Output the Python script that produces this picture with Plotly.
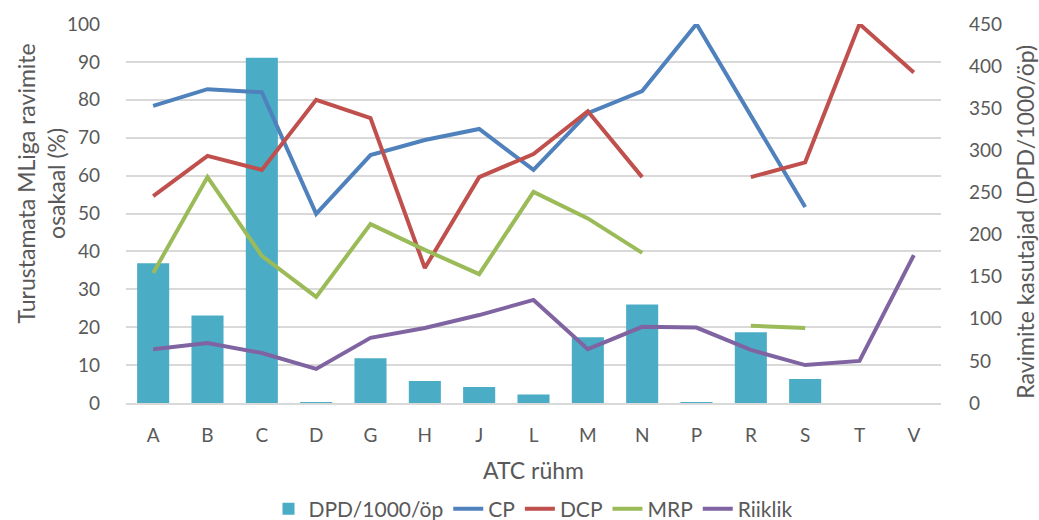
import plotly.graph_objects as go

# ATC groups on the x axis
categories = ["A", "B", "C", "D", "G", "H", "J", "L", "M", "N", "P", "R", "S", "T", "V"]

# Users of medicines, DPD per 1000 inhabitants (right axis)
dpd = [166, 104, 410, 1.0, 53, 26, 19, 10, 78, 117, 0.4, 84, 28.5, None, None]

# Share of medicines not marketed (%) by procedure (left axis)
cp = [78.4, 82.8, 82.0, 49.9, 65.4, 69.4, 72.3, 61.5, 76.5, 82.3, 100, 76.0, 51.7, None, None]
dcp = [54.6, 65.2, 61.5, 80.0, 75.2, 35.6, 59.6, 65.7, 77.0, 59.6, None, 59.6, 63.5, 100, 87.2]
mrp = [34.3, 59.6, 38.8, 28.0, 47.2, 40.4, 34.0, 55.7, 48.7, 39.6, None, 20.4, 19.8, None, None]
riiklik = [14.2, 15.8, 13.2, 9.0, 17.2, 19.8, 23.2, 27.2, 14.2, 20.1, 19.9, 14.0, 10.0, 11.1, 39.0]

left_ticks = list(range(0, 101, 10))
right_ticks = list(range(0, 451, 50))

text_color = "#595959"
grid_color = "#D9D9D9"
font_family = "Lato, 'Open Sans', sans-serif"
title_size = 23

fig = go.Figure()

fig.add_trace(go.Bar(
    x=categories, y=dpd, name="DPD/1000/öp",
    marker=dict(color="#4BACC6", line=dict(width=0)),
    yaxis="y",
))

line_series = [
    ("CP", cp, "#4F81BD"),
    ("DCP", dcp, "#C0504D"),
    ("MRP", mrp, "#9BBB59"),
    ("Riiklik", riiklik, "#8064A2"),
]
for name, values, color in line_series:
    fig.add_trace(go.Scatter(
        x=categories, y=values, name=name, mode="lines",
        line=dict(color=color, width=4),
        connectgaps=False,
        yaxis="y2",
    ))

# Axis titles placed as annotations so their position is fixed
fig.add_annotation(
    text="Turustamata MLiga ravimite<br>osakaal (%)",
    xref="paper", yref="paper", x=-0.104, y=0.58,
    textangle=-90, showarrow=False, xanchor="center", yanchor="middle",
    font=dict(size=title_size, color=text_color),
)
fig.add_annotation(
    text="Ravimite kasutajad (DPD/1000/öp)",
    xref="paper", yref="paper", x=1.103, y=0.478,
    textangle=-90, showarrow=False, xanchor="center", yanchor="middle",
    font=dict(size=title_size, color=text_color),
)
fig.add_annotation(
    text="ATC rühm",
    xref="paper", yref="paper", x=0.5, y=-0.177,
    showarrow=False, xanchor="center", yanchor="middle",
    font=dict(size=title_size, color=text_color),
)

fig.update_layout(
    width=1039, height=520,
    margin=dict(l=126, r=98, t=24, b=117, autoexpand=False),
    paper_bgcolor="white", plot_bgcolor="white",
    font=dict(family=font_family, color=text_color, size=19),
    bargap=0.41,
    showlegend=True,
    legend=dict(
        orientation="h", x=0.5, xanchor="center", y=-0.28, yanchor="middle",
        font=dict(size=21, color=text_color), itemwidth=30,
        traceorder="normal",
    ),
    xaxis=dict(
        type="category", categoryorder="array", categoryarray=categories,
        tickfont=dict(size=19, color=text_color),
        showline=True, linecolor=grid_color, linewidth=1.5,
        showgrid=False, ticks="", ticklen=0, ticklabelstandoff=14,
        automargin=False,
    ),
    yaxis=dict(
        side="right", range=[0, 450], tickvals=right_ticks,
        showgrid=False, zeroline=False,
        tickfont=dict(size=19, color=text_color),
        ticks="", ticklabelstandoff=27, automargin=False,
    ),
    yaxis2=dict(
        overlaying="y", side="left", range=[0, 100], tickvals=left_ticks,
        showgrid=True, gridcolor=grid_color, gridwidth=1.5, zeroline=False,
        tickfont=dict(size=19, color=text_color),
        ticks="", ticklabelstandoff=25, automargin=False,
    ),
)

fig.write_html("out.html")
